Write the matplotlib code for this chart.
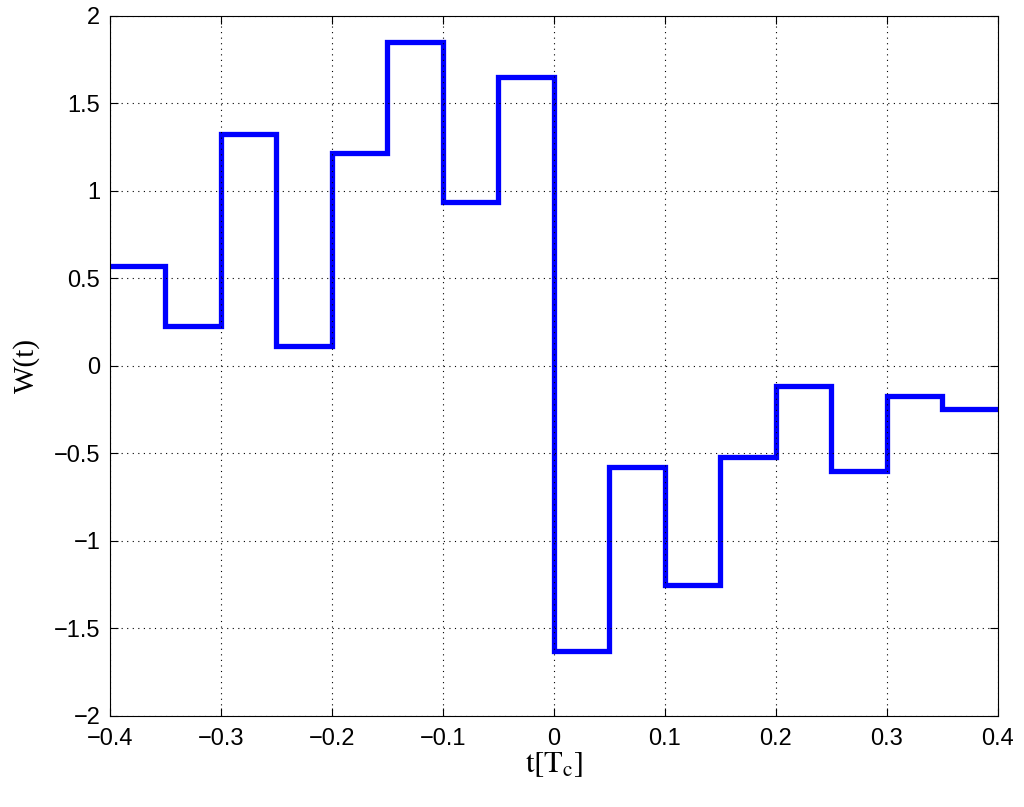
import matplotlib
matplotlib.use("Agg")
import matplotlib.pyplot as plt
import numpy as np

plt.rcParams['mathtext.fontset'] = 'stix'

t_edges = [-0.4, -0.35, -0.3, -0.25, -0.2, -0.15, -0.1, -0.05, 0.0, 0.05, 0.1, 0.15, 0.2, 0.25, 0.3, 0.35, 0.4]
w_values = [0.571, 0.229, 1.326, 0.114, 1.217, 1.851, 0.937, 1.651,
            -1.629, -0.577, -1.251, -0.52, -0.114, -0.6, -0.171, -0.246]
x_ticks = [-0.4, -0.3, -0.2, -0.1, 0, 0.1, 0.2, 0.3, 0.4]
x_ticklabels = ["\u22120.4", "\u22120.3", "\u22120.2", "\u22120.1", "0", "0.1", "0.2", "0.3", "0.4"]
y_ticks = [-2, -1.5, -1, -0.5, 0, 0.5, 1, 1.5, 2]
y_ticklabels = ["\u22122", "\u22121.5", "\u22121", "\u22120.5", "0", "0.5", "1", "1.5", "2"]

fig = plt.figure(figsize=(10.24, 8.07), dpi=100)
ax = fig.add_axes([0.1074, 0.1128, 0.8672, 0.8674])

ax.stairs(w_values, t_edges, color="#0000ff", linewidth=3.8, baseline=None)

ax.set_xlim(-0.4, 0.4)
ax.set_ylim(-2, 2)
ax.set_xticks(x_ticks)
ax.set_xticklabels(x_ticklabels, family="Liberation Sans", fontsize=17)
ax.set_yticks(y_ticks)
ax.set_yticklabels(y_ticklabels, family="Liberation Sans", fontsize=17)
ax.tick_params(direction="in", length=6, width=0.8, top=True, right=True)
ax.tick_params(axis="x", pad=9)
ax.tick_params(axis="y", pad=7)
ax.grid(True, linestyle=(0, (1, 4)), color="black", linewidth=0.8)
for s in ax.spines.values():
    s.set_linewidth(0.8)

ax.set_xlabel(r"$\mathrm{t[T_c]}$", fontsize=22, labelpad=0)
ax.set_ylabel("W(t)", family="Liberation Serif", fontsize=21, labelpad=10)

fig.savefig("out.png", dpi=100)
